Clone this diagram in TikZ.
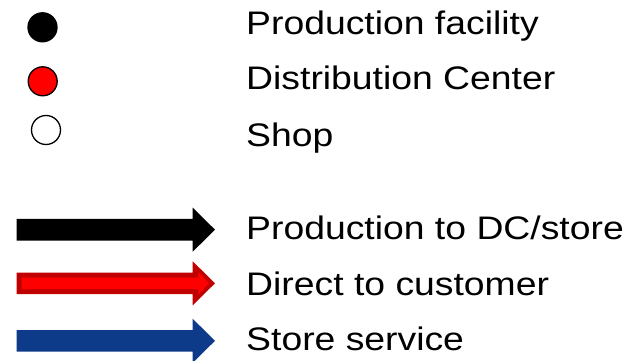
\documentclass[tikz,border=0pt]{standalone}
\usepackage{fontspec}
\setmainfont{Liberation Sans}
\definecolor{dcred}{RGB}{255,0,0}
\definecolor{dcborder}{RGB}{192,0,0}
\definecolor{serviceblue}{RGB}{14,58,138}
\tikzset{
  legendtext/.style={anchor=base west, inner sep=0pt, xscale=1.145,
    font=\fontsize{32.6}{36}\selectfont},
  site/.style={circle, draw=black, line width=1.3pt, minimum size=29pt, inner sep=0pt},
  % block arrow: shaft half-width 10.8, head half-width 22, head length 22.3
  blockarrow/.pic={
    \fill[pic actions] (0,-10.8) -- (176,-10.8) -- (176,-22) -- (198.3,0)
      -- (176,22) -- (176,10.8) -- (0,10.8) -- cycle;
  },
  innerarrow/.pic={
    \fill[pic actions] (5,-5.7) -- (181.6,-5.7) -- (181.6,-11.3) -- (192.3,0)
      -- (181.6,11.3) -- (181.6,5.7) -- (5,5.7) -- cycle;
  }
}
\begin{document}
\begin{tikzpicture}[x=1pt, y=-1pt]
  \useasboundingbox (0,0) rectangle (627,361);

  % facility symbols
  \node[site, fill=black]  (prod) at (42.5,27.3) {};
  \node[site, fill=dcred]  (dc)   at (42.7,81.3) {};
  \node[site, fill=white]  (shop) at (46,130) {};

  \node[legendtext] (tprod) at (246,34.3)  {Production facility};
  \node[legendtext] (tdc)   at (246,90)    {Distribution Center};
  \node[legendtext] (tshop) at (246,146.5) {Shop};

  % flow arrows
  \pic[fill=black] at (16.7,229.7) {blockarrow};
  \pic[fill=dcborder] at (16.7,283.3) {blockarrow};
  \pic[fill=dcred] at (16.7,283.3) {innerarrow};
  \pic[fill=serviceblue] at (16.7,340.8) {blockarrow};

  \node[legendtext] (tflow)   at (246,239.3) {Production to DC/store};
  \node[legendtext] (tdirect) at (246,295)   {Direct to customer};
  \node[legendtext] (tstore)  at (246,350.7) {Store service};
\end{tikzpicture}
\end{document}
